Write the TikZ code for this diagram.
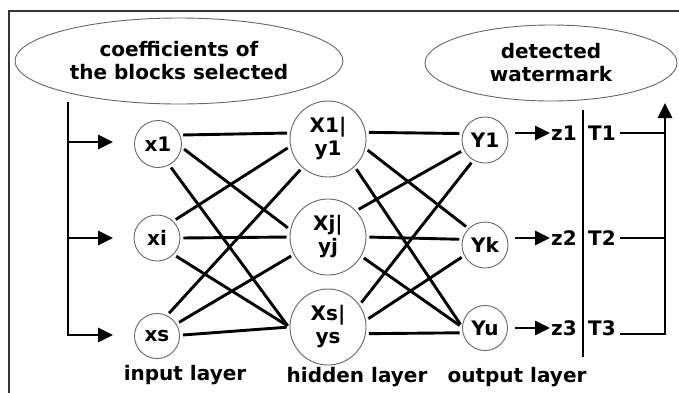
\documentclass[tikz,border=0pt]{standalone}
\usepackage{fontspec}
\setmainfont{DejaVu Sans}
\usetikzlibrary{arrows.meta,shapes.geometric}
\begin{document}
\begin{tikzpicture}[x=1pt,y=-1pt,
  every node/.style={font=\bfseries\fontsize{20}{23}\selectfont, inner sep=0pt},
  unit/.style={circle, draw=black!60, line width=0.9pt, minimum size=#1, align=center},
  cloud/.style={ellipse, draw=black!60, line width=0.9pt, align=center},
  link/.style={line width=2.9pt, shorten <=3pt, shorten >=3pt},
  feed/.style={line width=2.9pt, -{Triangle[length=15pt,width=14pt]}},
  bus/.style={line width=2.9pt},
  caption/.style={anchor=base},
]
\useasboundingbox (0,0) rectangle (679,392);
\clip (0,0) rectangle (679,392);
% outer frame
\draw[line width=1.1pt, black!80] (9,11) rectangle (700,420);

% input and output clouds
\node[cloud, minimum width=328, minimum height=86] (src) at (179,61)
  {coefficients of\\the blocks selected};
\node[cloud, minimum width=252, minimum height=76] (dst) at (551,63)
  {detected\\watermark};

% input layer
\node[unit=47] (x1) at (158,144) {x1};
\node[unit=46] (xi) at (157,238) {xi};
\node[unit=45] (xs) at (157,336) {xs};

% hidden layer
\node[unit=76] (h1) at (328,139) {X1|\\y1};
\node[unit=76] (hj) at (328,237) {Xj|\\yj};
\node[unit=76] (hs) at (328,327) {Xs|\\ys};

% output layer
\node[unit=46] (y1) at (485,140) {Y1};
\node[unit=46] (yk) at (485,245) {Yk};
\node[unit=45] (yu) at (485,328) {Yu};

% layer captions
\node[caption] (capin)  at (185,380) {input layer};
\node[caption] (caphid) at (357,382) {hidden layer};
\node[caption] (capout) at (517,382) {output layer};

% input bus
\coordinate (trunk) at (68,102);
\coordinate (a1) at (113,142);
\coordinate (a2) at (113,238);
\coordinate (a3) at (113,335);
\draw[feed] (trunk) |- (a3);
\draw[feed] (trunk |- a1) -- (a1);
\draw[feed] (trunk |- a2) -- (a2);

% input -> hidden
\draw[link] (x1.22)  -- (h1.171);
\draw[link] (x1.-8)  -- (hj.169);
\draw[link] (x1.-62) -- (hs.-178);
\draw[link] (xi.46)  -- (h1.-169);
\draw[link] (xi.0)   -- (hj.180);
\draw[link] (xi.-45) -- (hs.180);
\draw[link] (xs.64)  -- (h1.-132);
\draw[link] (xs.32)  -- (hj.-153);
\draw[link] (xs.2)   -- (hs.180);

% hidden -> output
\draw[link] (h1.10)  -- (y1.164);
\draw[link] (h1.-14) -- (yk.135);
\draw[link] (h1.-46) -- (yu.177);
\draw[link] (hj.43)  -- (y1.-155);
\draw[link] (hj.0)   -- (yk.166);
\draw[link] (hj.-30) -- (yu.178);
\draw[link] (hs.35)  -- (y1.-120);
\draw[link] (hs.10)  -- (yk.-153);
\draw[link] (hs.-10) -- (yu.-168);

% outputs and thresholds
\coordinate (o1s) at (515,133); \coordinate (o1) at (550,133);
\coordinate (o2s) at (515,238); \coordinate (o2) at (550,238);
\coordinate (o3s) at (515,328); \coordinate (o3) at (550,328);
\draw[feed] (o1s) -- (o1);
\draw[feed] (o2s) -- (o2);
\draw[feed] (o3s) -- (o3);
\node[caption] (z1) at (564,140) {z1};
\node[caption] (z2) at (564,245) {z2};
\node[caption] (z3) at (564,335) {z3};
\coordinate (sepTop) at (583,110);
\coordinate (sepBot) at (583,357);
\draw[bus] (sepTop) -- (sepBot);
\node[caption] (t1) at (602,140) {T1};
\node[caption] (t2) at (602,245) {T2};
\node[caption] (t3) at (602,335) {T3};
\coordinate (r1) at (620,133);
\coordinate (r2) at (620,238);
\coordinate (r3) at (620,334);
\coordinate (rtop) at (665,103);
\draw[bus] (r1) -- (r1 -| rtop);
\draw[bus] (r2) -- (r2 -| rtop);
\draw[feed] (r3) -| (rtop);
\end{tikzpicture}
\end{document}
